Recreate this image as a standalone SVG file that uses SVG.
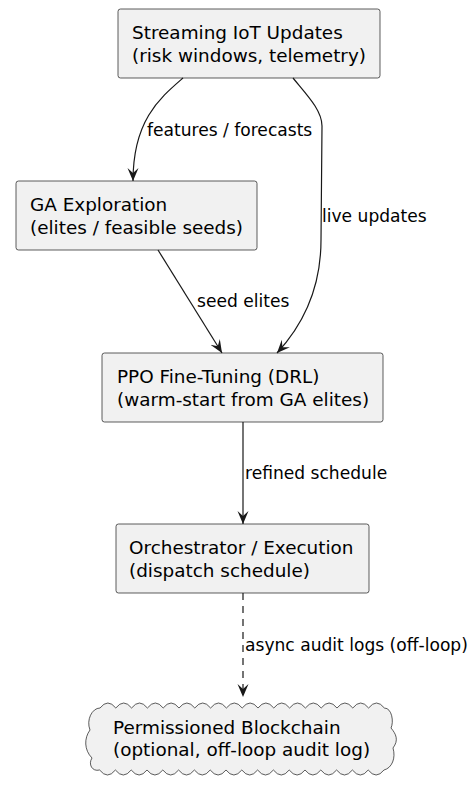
<svg xmlns="http://www.w3.org/2000/svg" width="468" height="787" viewBox="0 0 468 787">
<defs>
<style>
.box{fill:#F1F1F1;stroke:#181818;stroke-width:0.7}
.t{font-family:"DejaVu Sans","Noto Sans",sans-serif;font-size:18.4px;fill:#000}
.l{font-family:"DejaVu Sans","Noto Sans",sans-serif;font-size:17.1px;fill:#000}
.e{fill:none;stroke:#181818;stroke-width:1.2}
</style>
<marker id="ah" viewBox="0 0 13 12" refX="13" refY="6" markerWidth="13" markerHeight="12" markerUnits="userSpaceOnUse" orient="auto">
<path d="M0,0.5 L13,6 L0,11.5 L5,6 Z" fill="#181818"/>
</marker>
</defs>
<rect width="468" height="787" fill="#FFFFFF"/>
<g id="n1"><rect class="box" x="118" y="9" width="262" height="69" rx="2.5"/>
<text class="t" x="132" y="39">Streaming IoT Updates</text>
<text class="t" x="132" y="62">(risk windows, telemetry)</text></g>
<g id="n2"><rect class="box" x="16" y="181" width="241" height="69" rx="2.5"/>
<text class="t" x="30" y="211">GA Exploration</text>
<text class="t" x="30" y="234">(elites / feasible seeds)</text></g>
<g id="n3"><rect class="box" x="102" y="353" width="281" height="69" rx="2.5"/>
<text class="t" x="117" y="383">PPO Fine-Tuning (DRL)</text>
<text class="t" x="117" y="406">(warm-start from GA elites)</text></g>
<g id="n4"><rect class="box" x="116" y="524" width="253" height="69" rx="2.5"/>
<text class="t" x="129" y="554">Orchestrator / Execution</text>
<text class="t" x="129" y="577">(dispatch schedule)</text></g>
<g id="n5"><path class="box" d="M100,708 q7.9,-10 15.8,0 q7.9,-10 15.8,0 q7.9,-10 15.8,0 q7.9,-10 15.8,0 q7.9,-10 15.8,0 q7.9,-10 15.8,0 q7.9,-10 15.8,0 q7.9,-10 15.8,0 q7.9,-10 15.8,0 q7.9,-10 15.8,0 q7.9,-10 15.8,0 q7.9,-10 15.8,0 q7.9,-10 15.8,0 q7.9,-10 15.8,0 q7.9,-10 15.8,0 q7.9,-10 15.8,0 q7.9,-10 15.8,0 q7.9,-10 15.8,0 C392,708 394,722 391,728 C396,734 399,740 393,748 C396,758 392,768 384,770 q-7.9,10 -15.8,0 q-7.9,10 -15.8,0 q-7.9,10 -15.8,0 q-7.9,10 -15.8,0 q-7.9,10 -15.8,0 q-7.9,10 -15.8,0 q-7.9,10 -15.8,0 q-7.9,10 -15.8,0 q-7.9,10 -15.8,0 q-7.9,10 -15.8,0 q-7.9,10 -15.8,0 q-7.9,10 -15.8,0 q-7.9,10 -15.8,0 q-7.9,10 -15.8,0 q-7.9,10 -15.8,0 q-7.9,10 -15.8,0 q-7.9,10 -15.8,0 q-7.9,10 -15.8,0 C92,772 88,764 92,758 C84,750 84,738 90,730 C86,720 92,708 100,708 Z"/>
<text class="t" x="113" y="734">Permissioned Blockchain</text>
<text class="t" x="113" y="756">(optional, off-loop audit log)</text></g>
<g id="edges">
<path class="e" d="M183,78 C160,98 133,120 133,181" marker-end="url(#ah)"/>
<text class="l" x="147" y="136">features / forecasts</text>
<path class="e" d="M293,78 C306,94 322,110 322,126 L321,240 C321,290 302,326 277,353" marker-end="url(#ah)"/>
<text class="l" x="322" y="222">live updates</text>
<path class="e" d="M158,250 L222,353" marker-end="url(#ah)"/>
<text class="l" x="197" y="307">seed elites</text>
<path class="e" d="M243,422 L243,524" marker-end="url(#ah)"/>
<text class="l" x="245" y="479">refined schedule</text>
<path class="e" d="M243,593 L243,697" stroke-dasharray="7,6" marker-end="url(#ah)"/>
<text class="l" x="245" y="651">async audit logs (off-loop)</text>
</g>
</svg>
